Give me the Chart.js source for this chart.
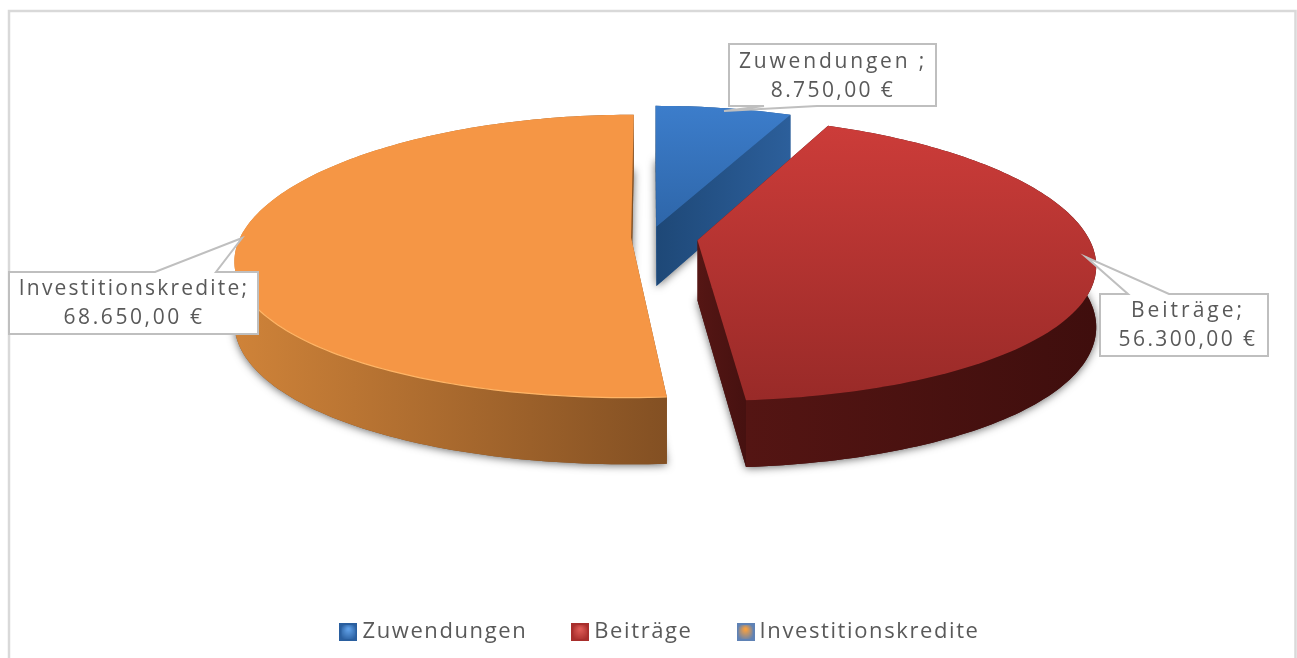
<!DOCTYPE html>
<html>
<head>
<meta charset="utf-8">
<title>Finanzierung</title>
<script src="https://cdn.jsdelivr.net/npm/chart.js@4"></script>
<style>
    html, body { margin: 0; padding: 0; background: #fff; overflow: hidden; }
    #wrap { width: 1297px; height: 658px; }
</style>
</head>
<body>
<div id="wrap"><canvas id="chart"></canvas></div>
<script>
const categories = ['Zuwendungen', 'Beiträge', 'Investitionskredite'];
const amounts = [8750, 56300, 68650];
const labelSeparators = [' ;', ';', ';'];

const textColor = '#595959';
const euro = new Intl.NumberFormat('de-DE', { minimumFractionDigits: 2, maximumFractionDigits: 2 });

// the tilted plane of the pie on screen
const view = { cx: 650, cy: 237.5, sx: 391, sy: 139, tilt: 0.13, tiltX: 0.16, tiltDepth: 0.1, depth: 60 };

const sliceLook = [
    { top: ['#3c7dcb', '#2e66a9'], wall: ['#1e4877', '#2c5f9b'], face: ['#1e4877', '#2c5f9b'], rim: null },
    { top: ['#cc3c39', '#992a28'], wall: ['#541513', '#3f0e0d'], face: ['#551614', '#461110'], rim: null },
    { top: ['#f59645', '#f59645'], wall: ['#cf8339', '#835023'], face: ['#835023', '#835023'], rim: '#ffb566' }
];

// callout boxes, in the order of the categories
const callouts = [
    { box: [729, 44, 207, 62], base: [764, 817], tip: [724, 111], textX: 833, lines: [62, 91], gaps: [2.8, 2.4] },
    { box: [1100, 294, 168, 62], base: [1128, 1169], tip: [1086, 257], textX: 1188, lines: [311, 340], gaps: [3, 2.4] },
    { box: [9, 272, 249, 62], base: [155, 216], tip: [242, 238], textX: 134, lines: [289, 318], gaps: [2.2, 2.6] }
];

function project(u, v) {
    return {
        x: view.cx + view.sx * u / (1 - view.tiltX * v),
        y: view.cy + view.sy * v / (1 - view.tilt * v),
        d: view.depth / (1 - view.tiltDepth * v)
    };
}

// outline of one slice, read from the arc element of the chart
function sliceOutline(arc) {
    const mid = (arc.startAngle + arc.endAngle) / 2;
    const shift = arc.options.offset / arc.outerRadius;
    const u0 = Math.cos(mid) * shift;
    const v0 = Math.sin(mid) * shift;
    const rim = [];
    const steps = Math.ceil((arc.endAngle - arc.startAngle) / 0.02);
    for (let i = 0; i <= steps; i++) {
        const a = arc.startAngle + (arc.endAngle - arc.startAngle) * i / steps;
        rim.push(project(u0 + Math.cos(a), v0 + Math.sin(a)));
    }
    return { apex: project(u0, v0), rim: rim };
}

function fillPoly(ctx, points, style) {
    ctx.beginPath();
    points.forEach((p, i) => i ? ctx.lineTo(p.x, p.y) : ctx.moveTo(p.x, p.y));
    ctx.closePath();
    ctx.fillStyle = style;
    ctx.fill();
}

function lowered(points) {
    return points.map(p => ({ x: p.x, y: p.y + p.d, d: p.d }));
}

function drawSlice(ctx, arc, look) {
    const shape = sliceOutline(arc);
    const all = shape.rim.concat([shape.apex]);
    const ys = all.map(p => p.y);
    const first = shape.rim[0], last = shape.rim[shape.rim.length - 1];

    const walls = [
        { pts: [shape.apex, first].concat(lowered([first, shape.apex])), colors: look.face },
        { pts: [shape.apex, last].concat(lowered([last, shape.apex])), colors: look.face },
        { pts: shape.rim.concat(lowered(shape.rim).reverse()), colors: look.wall }
    ];

    // soft shadow of the underside only, so the upper edges stay clean
    ctx.save();
    ctx.shadowColor = 'rgba(0,0,0,0.6)';
    ctx.shadowBlur = 8;
    ctx.shadowOffsetY = 1;
    fillPoly(ctx, lowered([shape.apex].concat(shape.rim)), look.wall[1]);
    ctx.restore();

    walls.forEach(w => {
        const xx = w.pts.map(p => p.x);
        const g = ctx.createLinearGradient(Math.min(...xx), 0, Math.max(...xx), 0);
        g.addColorStop(0, w.colors[0]);
        g.addColorStop(1, w.colors[1]);
        fillPoly(ctx, w.pts, g);
    });

    const g = ctx.createLinearGradient(0, Math.min(...ys), 0, Math.max(...ys));
    g.addColorStop(0, look.top[0]);
    g.addColorStop(1, look.top[1]);
    fillPoly(ctx, [shape.apex].concat(shape.rim), g);

    if (look.rim) {
        ctx.beginPath();
        shape.rim.filter(p => p.y > view.cy + 60).forEach((p, i) => i ? ctx.lineTo(p.x, p.y) : ctx.moveTo(p.x, p.y));
        ctx.strokeStyle = look.rim;
        ctx.lineWidth = 1.2;
        ctx.stroke();
    }
}

function drawCallout(ctx, c, i) {
    const [x, y, w, h] = c.box;
    const above = c.tip[1] < y;
    const edge = above ? y : y + h;
    ctx.beginPath();
    ctx.moveTo(x, y);
    if (above) {
        ctx.lineTo(c.base[0], y);
        ctx.lineTo(c.tip[0], c.tip[1]);
        ctx.lineTo(c.base[1], y);
    }
    ctx.lineTo(x + w, y);
    ctx.lineTo(x + w, y + h);
    if (!above) {
        ctx.lineTo(c.base[1], edge);
        ctx.lineTo(c.tip[0], c.tip[1]);
        ctx.lineTo(c.base[0], edge);
    }
    ctx.lineTo(x, y + h);
    ctx.closePath();
    ctx.fillStyle = '#fff';
    ctx.fill();
    ctx.strokeStyle = '#bfbfbf';
    ctx.lineWidth = 2;
    ctx.stroke();

    ctx.fillStyle = textColor;
    ctx.font = '21px "Open Sans"';
    ctx.textAlign = 'center';
    ctx.textBaseline = 'middle';
    ctx.letterSpacing = c.gaps[0] + 'px';
    ctx.fillText(categories[i] + labelSeparators[i], c.textX, c.lines[0]);
    ctx.letterSpacing = c.gaps[1] + 'px';
    ctx.fillText(euro.format(amounts[i]) + ' €', c.textX, c.lines[1]);
}

// little bevelled legend squares
function swatch(outer, inner) {
    const c = document.createElement('canvas');
    c.width = 18;
    c.height = 18;
    const g = c.getContext('2d');
    g.fillStyle = outer;
    g.fillRect(0, 0, 18, 18);
    const r = g.createRadialGradient(9, 6, 1, 9, 9, 9);
    r.addColorStop(0, inner);
    r.addColorStop(1, outer);
    g.fillStyle = r;
    g.fillRect(2, 2, 14, 14);
    return c;
}
const swatches = [swatch('#2a5f9f', '#5f9fe6'), swatch('#a82e2c', '#dd5a55'), swatch('#5f82b5', '#f7a040')];

const pie3d = {
    id: 'pie3d',
    beforeLayout(chart) {
        chart.ctx.letterSpacing = '1.6px';
    },
    beforeDraw(chart) {
        const ctx = chart.ctx;
        ctx.letterSpacing = '1.6px';
        // frame of the chart, open at the bottom
        ctx.save();
        ctx.strokeStyle = '#d9d9d9';
        ctx.lineWidth = 2.5;
        ctx.beginPath();
        ctx.moveTo(9, 658);
        ctx.lineTo(9, 11);
        ctx.lineTo(1295.5, 11);
        ctx.lineTo(1295.5, 658);
        ctx.stroke();
        ctx.restore();
    },
    beforeDatasetDraw(chart, args) {
        const ctx = chart.ctx;
        const arcs = args.meta.data;
        ctx.save();
        ctx.letterSpacing = '0px';
        [0, 2, 1].forEach(i => drawSlice(ctx, arcs[i], sliceLook[i]));
        ctx.restore();
        return false;
    },
    afterDatasetsDraw(chart) {
        const ctx = chart.ctx;
        ctx.save();
        callouts.forEach((c, i) => drawCallout(ctx, c, i));
        ctx.restore();
    }
};

new Chart(document.getElementById('chart'), {
    type: 'pie',
    data: {
        labels: categories,
        datasets: [{
            data: amounts,
            backgroundColor: ['#3c7dcb', '#c0393b', '#f59645'],
            offset: [22, 33, 13],
            borderWidth: 0
        }]
    },
    plugins: [pie3d],
    options: {
        responsive: true,
        maintainAspectRatio: false,
        animation: false,
        rotation: 0,
        layout: { padding: { left: 28, bottom: 5 } },
        plugins: {
            tooltip: { enabled: false },
            legend: {
                position: 'bottom',
                labels: {
                    usePointStyle: true,
                    boxWidth: 6,
                    boxHeight: 6,
                    padding: 50,
                    color: textColor,
                    font: { family: '"Open Sans"', size: 22 },
                    generateLabels: () => categories.map((name, i) => ({
                        text: name,
                        pointStyle: swatches[i],
                        fillStyle: '#fff',
                        strokeStyle: '#fff',
                        lineWidth: 0,
                        fontColor: textColor,
                        index: i
                    }))
                }
            }
        }
    }
});
</script>
</body>
</html>
